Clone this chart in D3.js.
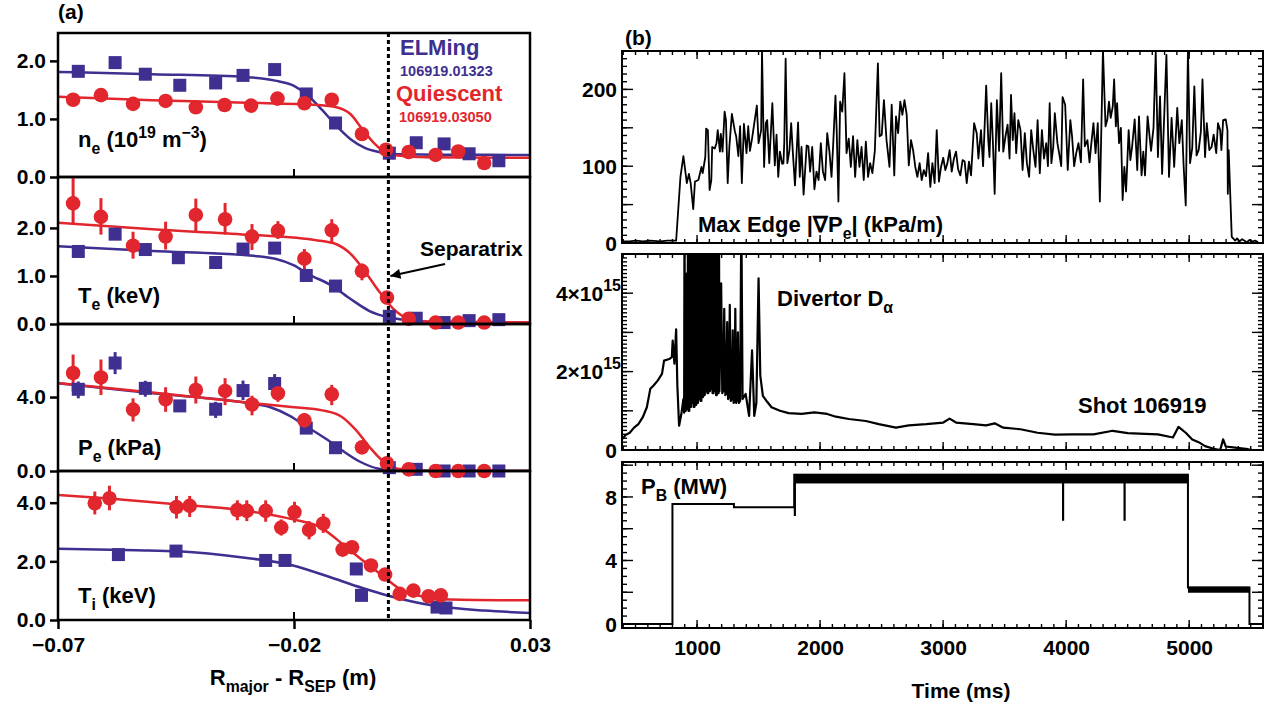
<!DOCTYPE html>
<html>
<head>
<meta charset="utf-8">
<script src="https://cdn.jsdelivr.net/npm/d3@7"></script>
<style>
  body { margin: 0; background: #fff; }
  text { font-family: "Liberation Sans", Arial, Helvetica, sans-serif; font-weight: bold; }
</style>
</head>
<body>
<svg width="1271" height="709"></svg>
<script>
// ---- (a) edge profiles: [R - Rsep (m), value, errLo, errHi] ----
const neElm = [[-0.0657,1.82],[-0.0579,1.97],[-0.0515,1.77],[-0.0442,1.58],[-0.0366,1.62],[-0.0308,1.75],[-0.0241,1.85],[-0.0174,1.43],[-0.0112,0.93],[0.0002,0.41],[0.0059,0.59],[0.0118,0.57],[0.0171,0.40],[0.0234,0.28]];
const neQui = [[-0.0668,1.33],[-0.0609,1.41],[-0.0541,1.26],[-0.0472,1.31],[-0.0408,1.20],[-0.0347,1.24],[-0.0291,1.23],[-0.0235,1.35],[-0.0178,1.27],[-0.0120,1.33],[-0.0056,0.74],[-0.0005,0.47],[0.0043,0.43],[0.0100,0.38],[0.0148,0.44],[0.0203,0.24]];
const neElmFit = [[-0.07,1.81],[-0.05,1.77],[-0.03,1.72],[-0.024,1.66],[-0.02,1.57],[-0.017,1.40],[-0.014,1.15],[-0.011,0.88],[-0.008,0.65],[-0.005,0.50],[-0.002,0.43],[0.002,0.39],[0.01,0.385],[0.03,0.38]];
const neQuiFit = [[-0.07,1.38],[-0.05,1.32],[-0.03,1.28],[-0.015,1.24],[-0.011,1.20],[-0.008,1.08],[-0.0055,0.82],[-0.003,0.58],[-0.001,0.44],[0.002,0.37],[0.008,0.34],[0.03,0.33]];

const teElm = [[-0.0657,1.51],[-0.0579,1.87,1.77,1.97],[-0.0515,1.55],[-0.0445,1.38],[-0.0366,1.28,1.17,1.38],[-0.0308,1.56,1.46,1.66],[-0.0241,1.58,1.48,1.68],[-0.0174,1.01],[-0.0112,0.79],[0.0002,0.16],[0.0059,0.12],[0.0118,0.03],[0.0171,0.07],[0.0234,0.09]];
const teQui = [[-0.0668,2.51,2.10,3.16],[-0.0609,2.23,1.86,2.62],[-0.0541,1.63,1.36,1.92],[-0.0472,1.82,1.55,2.13],[-0.0408,2.27,1.92,2.61],[-0.0346,2.18,1.86,2.52],[-0.0289,1.82,1.54,2.08],[-0.0234,1.94,1.77,2.14],[-0.0178,1.36,1.12,1.56],[-0.0120,1.95,1.70,2.18],[-0.0056,1.10,0.91,1.26],[-0.0003,0.55,0.47,0.64],[0.0043,0.11],[0.0100,0.03],[0.0148,0.03],[0.0203,0.03]];
const teElmFit = [[-0.07,1.62],[-0.05,1.52],[-0.03,1.43],[-0.024,1.36],[-0.02,1.22],[-0.017,1.04],[-0.012,0.80],[-0.008,0.52],[-0.004,0.27],[0,0.14],[0.004,0.08],[0.01,0.04],[0.03,0.03]];
const teQuiFit = [[-0.07,2.11],[-0.05,1.97],[-0.03,1.86],[-0.015,1.74],[-0.011,1.66],[-0.008,1.46],[-0.005,1.10],[-0.002,0.68],[0.001,0.32],[0.004,0.12],[0.008,0.05],[0.03,0.03]];

const peElm = [[-0.0657,4.42,3.93,4.84],[-0.0579,5.84,5.24,6.43],[-0.0515,4.47,4.02,4.88],[-0.0442,3.52],[-0.0366,3.34,2.87,3.74],[-0.0308,4.35,3.84,4.89],[-0.0241,4.73,4.29,5.24],[-0.0174,2.32],[-0.0112,1.26],[0.0002,0.18],[0.0059,0.09],[0.0118,0],[0.0171,0],[0.0234,0]];
const peQui = [[-0.0668,5.30,4.29,6.30],[-0.0609,5.06,4.11,6.03],[-0.0541,3.32,2.68,3.93],[-0.0472,3.87,3.20,4.53],[-0.0408,4.38,3.65,5.11],[-0.0346,4.33,3.56,5.02],[-0.0289,3.60,3.01,4.07],[-0.0234,4.20,3.74,4.66],[-0.0178,2.74,2.32,3.14],[-0.0120,4.15,3.56,4.66],[-0.0056,1.28,1.04,1.55],[-0.0003,0.42],[0.0043,0.09],[0.0100,0],[0.0148,0],[0.0203,0]];
const peElmFit = [[-0.07,4.75],[-0.05,4.2],[-0.03,3.68],[-0.025,3.45],[-0.021,3.0],[-0.017,2.35],[-0.013,1.7],[-0.010,1.15],[-0.006,0.5],[-0.002,0.12],[0.002,0.02],[0.03,0]];
const peQuiFit = [[-0.07,4.75],[-0.05,4.25],[-0.03,3.7],[-0.02,3.45],[-0.014,3.28],[-0.010,2.95],[-0.007,2.25],[-0.004,1.3],[-0.001,0.5],[0.002,0.12],[0.006,0.02],[0.03,0]];

const tiElm = [[-0.0572,2.23],[-0.0450,2.35],[-0.0260,2.03],[-0.0219,2.03],[-0.0068,1.74],[-0.0057,0.84],[0.0103,0.44],[0.0122,0.41]];
const tiQui = [[-0.0622,3.98,3.60,4.38],[-0.0591,4.15,3.74,4.58],[-0.0449,3.85,3.46,4.23],[-0.0421,3.89,3.51,4.23],[-0.0320,3.75,3.40,4.08],[-0.0300,3.72,3.37,4.08],[-0.0260,3.72,3.35,4.08],[-0.0227,3.15,2.88,3.43],[-0.0199,3.68,3.32,4.03],[-0.0168,3.07,2.75,3.37],[-0.0138,3.29,2.97,3.62],[-0.0097,2.40,2.18,2.60],[-0.0077,2.48,2.29,2.69],[-0.0037,1.86],[-0.0007,1.55],[0.0024,0.89],[0.0053,1.00],[0.0085,0.81],[0.0111,0.84]];
const tiElmFit = [[-0.07,2.43],[-0.0534,2.38],[-0.0445,2.34],[-0.0313,2.14],[-0.0202,1.86],[-0.0129,1.49],[-0.0055,1.09],[0.0004,0.81],[0.0092,0.50],[0.0203,0.32],[0.03,0.24]];
const tiQuiFit = [[-0.07,4.26],[-0.0592,4.14],[-0.0445,3.94],[-0.0313,3.75],[-0.0202,3.43],[-0.0143,3.15],[-0.0092,2.52],[-0.0048,1.95],[-0.0011,1.49],[0.0026,1.04],[0.007,0.81],[0.0129,0.70],[0.03,0.67]];

const xTicksA = [-0.07, -0.02, 0.03];

// ---- (b) time traces: [time (ms), value] ----
const gradPe = [[390,2],[450,2],[500,3],[560,2],[620,3],[700,2],[760,3],[830,3],[865,86],[889,113],[917,78],[934,90],[948,78],[969,44],[983,80],[1011,82],[1036,99],[1046,91],[1067,112],[1074,149],[1088,147],[1102,69],[1116,82],[1123,125],[1144,123],[1158,130],[1168,147],[1186,119],[1193,142],[1207,119],[1224,171],[1235,160],[1249,78],[1263,126],[1283,168],[1308,145],[1318,139],[1336,113],[1350,152],[1364,78],[1381,155],[1402,117],[1416,152],[1430,120],[1447,136],[1486,179],[1500,130],[1521,147],[1528,250],[1545,99],[1559,156],[1570,160],[1587,104],[1612,182],[1632,101],[1646,141],[1660,86],[1674,119],[1692,103],[1702,104],[1709,131],[1720,240],[1734,104],[1751,121],[1765,156],[1779,117],[1796,75],[1821,157],[1835,86],[1849,125],[1866,63],[1891,127],[1905,126],[1919,93],[1936,125],[1954,70],[1971,93],[1988,82],[2006,130],[2023,93],[2041,82],[2058,143],[2076,119],[2093,86],[2107,130],[2125,192],[2135,147],[2149,54],[2163,184],[2180,171],[2198,221],[2215,117],[2233,136],[2250,99],[2268,139],[2285,86],[2303,134],[2320,99],[2337,125],[2355,82],[2372,132],[2390,86],[2407,104],[2425,91],[2445,120],[2470,234],[2484,139],[2501,141],[2519,186],[2540,134],[2564,99],[2582,180],[2603,88],[2617,165],[2634,143],[2652,184],[2669,167],[2686,186],[2704,167],[2721,101],[2739,134],[2756,121],[2774,99],[2791,86],[2809,104],[2826,82],[2843,95],[2861,87],[2878,117],[2896,73],[2913,104],[2931,78],[2948,147],[2966,80],[2983,99],[3001,111],[3018,95],[3035,104],[3053,121],[3070,93],[3088,110],[3105,119],[3122,96],[3140,88],[3158,108],[3175,106],[3192,78],[3210,106],[3227,88],[3252,156],[3273,143],[3287,110],[3308,147],[3325,100],[3350,205],[3367,134],[3377,112],[3391,182],[3405,130],[3419,64],[3437,186],[3455,120],[3472,221],[3489,119],[3507,139],[3524,154],[3540,110],[3552,193],[3566,134],[3580,169],[3594,117],[3611,160],[3629,147],[3646,95],[3664,143],[3681,104],[3699,86],[3716,147],[3733,121],[3751,99],[3768,160],[3786,91],[3803,147],[3820,110],[3838,130],[3852,100],[3866,182],[3880,104],[3895,125],[3908,169],[3929,130],[3943,117],[3960,100],[3971,190],[3992,180],[4013,95],[4034,160],[4048,139],[4065,100],[4082,117],[4100,130],[4120,105],[4138,213],[4152,126],[4173,134],[4190,105],[4205,130],[4222,156],[4239,117],[4257,156],[4274,54],[4292,195],[4299,252],[4320,152],[4334,160],[4348,184],[4362,163],[4379,178],[4390,213],[4404,152],[4414,182],[4430,130],[4445,150],[4459,56],[4473,99],[4487,67],[4508,147],[4522,108],[4536,125],[4557,161],[4578,95],[4592,165],[4613,88],[4627,119],[4641,88],[4662,165],[4690,120],[4710,150],[4728,248],[4746,112],[4763,191],[4780,90],[4815,245],[4836,86],[4857,163],[4878,99],[4903,176],[4920,130],[4940,160],[4955,100],[4972,49],[4990,252],[5007,104],[5025,124],[5042,204],[5060,114],[5077,121],[5095,145],[5108,213],[5129,112],[5143,156],[5164,121],[5182,125],[5199,141],[5220,117],[5234,156],[5252,147],[5262,121],[5276,160],[5297,161],[5311,147],[5314,64],[5321,121],[5346,8],[5374,3],[5390,6],[5410,2],[5430,5],[5450,3],[5470,1],[5490,4],[5513,2],[5540,3],[5560,1]];

// divertor D-alpha in units of 1e15
const dAlpha = [[390,0.27],[418,0.38],[453,0.44],[488,0.57],[523,0.66],[558,0.83],[592,1.09],[620,1.56],[645,1.64],[680,1.77],[715,1.94],[732,2.28],[774,2.32],[795,2.37],[802,2.79],[816,2.20],[830,3.08],[840,1.64],[854,0.62],[872,0.91],[889,1.30],
  [895,0.95],[898,6],[902,1.0],[909,1.0],[912,4.5],[916,1.05],[923,1.05],[926,6],[930,1.0],[937,1.0],[940,6],[944,1.1],[951,1.1],[954,6],[958,1.2],[965,1.2],[968,6],[972,1.1],[979,1.1],[982,6],[986,1.15],[993,1.15],[996,6],[1000,1.2],[1007,1.2],[1010,6],[1014,1.3],[1021,1.3],[1024,6],[1028,1.25],[1035,1.25],[1038,6],[1042,1.35],[1049,1.35],[1052,6],[1056,1.4],[1063,1.4],[1066,6],[1070,1.5],[1077,1.5],[1080,6],[1084,1.45],[1091,1.45],[1094,6],[1098,1.5],[1105,1.5],[1108,6],[1112,1.55],[1119,1.55],[1122,6],[1126,1.45],[1133,1.45],[1136,6],[1140,1.5],[1147,1.5],[1150,6],[1154,1.4],[1161,1.4],[1164,6],[1168,1.45],[1175,1.45],[1178,6],[1182,1.5],
  [1196,4.25],[1205,1.45],[1212,1.5],[1221,3.6],[1230,1.4],[1238,1.45],[1245,3.26],[1252,1.3],[1259,1.35],[1266,3.7],[1274,1.25],[1282,1.3],[1290,3.05],[1297,1.2],[1304,1.25],[1311,3.6],[1318,1.2],[1325,1.3],[1332,3.0],[1340,1.2],[1350,1.25],[1360,6],[1370,1.3],[1395,1.43],[1423,0.87],[1447,2.54],[1465,0.87],[1482,1.2],[1500,4.38],[1514,1.9],[1535,1.38],[1570,1.23],[1605,1.09],[1674,1.0],[1744,0.94],[1849,0.92],[1954,0.96],[2058,0.92],[2128,0.85],[2233,0.79],[2372,0.74],[2477,0.66],[2617,0.57],[2721,0.63],[2861,0.66],[3001,0.70],[3053,0.80],[3105,0.70],[3245,0.66],[3350,0.63],[3419,0.68],[3489,0.57],[3629,0.53],[3768,0.44],[3908,0.39],[4048,0.40],[4222,0.40],[4379,0.49],[4501,0.43],[4641,0.41],[4746,0.40],[4868,0.32],[4913,0.59],[4972,0.44],[5025,0.27],[5077,0.20],[5129,0.10],[5199,0.03],[5252,0],[5276,0.27],[5297,0.09],[5374,0.06],[5478,0.02],[5513,0]];

// neutral beam power (MW), step levels
const pbStep = [[390,0],[800,7.55],[1300,7.35],[1790,9.4],[4990,2.3],[5490,0],[5600,0]];
const pbBand = [[1790,8.85,9.45],[4990,1.97,2.35]];   // [start, lo, hi] of modulated bands
const pbBandEnd = [4990, 5490];
const pbDips = [[1795,6.8],[3975,6.5],[4475,6.5]];

const xTicksB = [1000, 2000, 3000, 4000, 5000];

// ---- colours ----
const blue = "#3f2f90", red = "#e2262d";

const svg = d3.select("svg");
const defs = svg.append("defs");

function richText(sel, x, y, parts, size, anchor) {
  const t = sel.append("text").attr("x", x).attr("y", y)
    .attr("font-size", size).attr("text-anchor", anchor || "start");
  let shift = 0;
  parts.forEach(([s, k]) => {
    const target = k === "sub" ? size * 0.32 : k === "sup" ? -size * 0.42 : 0;
    t.append("tspan").attr("dy", target - shift)
      .attr("font-size", k ? size * 0.72 : size).text(s);
    shift = target;
  });
  return t;
}

// ================= panel (a) =================
const xA = d3.scaleLinear([-0.07, 0.03], [58, 530]);
const panelsA = [
  {top: 33, bottom: 177, domain: [0, 2.48], ticks: [0, 1, 2], elm: neElm, qui: neQui, elmFit: neElmFit, quiFit: neQuiFit,
   label: [["n"],["e","sub"],[" (10"],["19","sup"],[" m"],["\u22123","sup"],[")"]], ly: 147},
  {top: 177, bottom: 324, domain: [0, 3.06], ticks: [0, 1, 2], elm: teElm, qui: teQui, elmFit: teElmFit, quiFit: teQuiFit,
   label: [["T"],["e","sub"],[" (keV)"]], ly: 303},
  {top: 324, bottom: 471, domain: [0, 7.95], ticks: [0, 4], elm: peElm, qui: peQui, elmFit: peElmFit, quiFit: peQuiFit,
   label: [["P"],["e","sub"],[" (kPa)"]], ly: 455},
  {top: 471, bottom: 620, domain: [0, 5.08], ticks: [0, 2, 4], elm: tiElm, qui: tiQui, elmFit: tiElmFit, quiFit: tiQuiFit,
   label: [["T"],["i","sub"],[" (keV)"]], ly: 603}
];

panelsA.forEach((p, i) => {
  const y = d3.scaleLinear(p.domain, [p.bottom, p.top]);
  p.y = y;
  const g = svg.append("g");
  const clipId = "clipA" + i;
  defs.append("clipPath").attr("id", clipId).append("rect")
    .attr("x", 58).attr("y", p.top).attr("width", 472).attr("height", p.bottom - p.top);

  const plot = g.append("g").attr("clip-path", `url(#${clipId})`);
  const line = d3.line().x(d => xA(d[0])).y(d => y(d[1])).curve(d3.curveMonotoneX);
  plot.append("path").datum(p.elmFit).attr("d", line).attr("fill", "none").attr("stroke", blue).attr("stroke-width", 2.5);
  plot.append("path").datum(p.quiFit).attr("d", line).attr("fill", "none").attr("stroke", red).attr("stroke-width", 2.5);

  [[p.elm, blue], [p.qui, red]].forEach(([pts, col]) => {
    plot.selectAll(null).data(pts.filter(d => d.length > 2)).join("line")
      .attr("x1", d => xA(d[0])).attr("x2", d => xA(d[0]))
      .attr("y1", d => y(d[2])).attr("y2", d => y(d[3]))
      .attr("stroke", col).attr("stroke-width", 3);
  });
  g.selectAll(null).data(p.elm).join("rect")
    .attr("x", d => xA(d[0]) - 6.5).attr("y", d => y(d[1]) - 6.5)
    .attr("width", 13).attr("height", 13).attr("fill", blue);
  g.selectAll(null).data(p.qui).join("circle")
    .attr("cx", d => xA(d[0])).attr("cy", d => y(d[1])).attr("r", 7.3).attr("fill", red);

  // frame
  g.append("rect").attr("x", 58).attr("y", p.top).attr("width", 472).attr("height", p.bottom - p.top)
    .attr("fill", "none").attr("stroke", "#000").attr("stroke-width", 2.5);
  // inner tick at -0.02
  g.append("line").attr("x1", xA(-0.02)).attr("x2", xA(-0.02)).attr("y1", p.bottom).attr("y2", p.bottom - 8)
    .attr("stroke", "#000").attr("stroke-width", 2);

  const ax = g.append("g").attr("transform", "translate(58,0)")
    .call(d3.axisLeft(y).tickValues(p.ticks).tickFormat(d3.format(".1f")).tickSize(8).tickPadding(4));
  ax.select(".domain").remove();
  ax.selectAll("line").attr("stroke-width", 2.5);
  ax.attr("font-size", 21).attr("font-family", null);

  richText(g, 78, p.ly, p.label, 22);
});

const axA = svg.append("g").attr("transform", "translate(0,620)")
  .call(d3.axisBottom(xA).tickValues(xTicksA).tickFormat(d3.format(".2f")).tickSize(9).tickPadding(8));
axA.select(".domain").remove();
axA.selectAll("line").attr("stroke-width", 2.5);
axA.attr("font-size", 21).attr("font-family", null);

richText(svg, 293, 685, [["R"],["major","sub"],[" - R"],["SEP","sub"],[" (m)"]], 22, "middle");

// separatrix
svg.append("line").attr("x1", xA(0)).attr("x2", xA(0)).attr("y1", 33).attr("y2", 620)
  .attr("stroke", "#000").attr("stroke-width", 3).attr("stroke-dasharray", "4,3");

defs.append("marker").attr("id", "arrow").attr("viewBox", "0 0 10 10").attr("refX", 10).attr("refY", 5)
  .attr("markerWidth", 7).attr("markerHeight", 5).attr("orient", "auto").attr("markerUnits", "strokeWidth")
  .append("path").attr("d", "M0,0 L10,5 L0,10 z").attr("fill", "#000");
const yTe = panelsA[1].y;
svg.append("line").attr("x1", xA(0.012)).attr("y1", yTe(1.25)).attr("x2", xA(0) + 2).attr("y2", yTe(1.0))
  .attr("stroke", "#000").attr("stroke-width", 2).attr("marker-end", "url(#arrow)");
svg.append("text").attr("x", 420).attr("y", 256).attr("font-size", 21).text("Separatrix");

svg.append("text").attr("x", 400).attr("y", 55).attr("font-size", 22).attr("fill", blue).text("ELMing");
svg.append("text").attr("x", 400).attr("y", 76).attr("font-size", 14.5).attr("fill", blue).text("106919.01323");
svg.append("text").attr("x", 396).attr("y", 101).attr("font-size", 22).attr("fill", red).text("Quiescent");
svg.append("text").attr("x", 399).attr("y", 122).attr("font-size", 14.5).attr("fill", red).text("106919.03050");
svg.append("text").attr("x", 58).attr("y", 19).attr("font-size", 21).text("(a)");

// ================= panel (b) =================
const xB = d3.scaleLinear([390, 5600], [622, 1263]);
const panelsB = [
  {top: 51, bottom: 243, domain: [0, 250], minor: 10, major: 50, max: 250, labels: [0, 100, 200], fmt: d => d},
  {top: 254, bottom: 450, domain: [0, 5], minor: 0.1, major: 1, max: 5, labels: [0, 2, 4], fmt: null},
  {top: 462, bottom: 628, domain: [-0.25, 10.2], minor: 0.5, major: 2, max: 10, labels: [0, 4, 8], fmt: d => d}
];

panelsB.forEach((p, i) => {
  const y = d3.scaleLinear(p.domain, [p.bottom, p.top]);
  p.y = y;
  const g = svg.append("g");
  const clipId = "clipB" + i;
  defs.append("clipPath").attr("id", clipId).append("rect")
    .attr("x", 622).attr("y", p.top).attr("width", 641).attr("height", p.bottom - p.top);
  p.plot = g.append("g").attr("clip-path", `url(#${clipId})`);

  const minorY = d3.range(0, p.max + 1e-9, p.minor).map(v => +v.toFixed(3));
  const majorY = d3.range(0, p.max + 1e-9, p.major);
  const minorX = d3.range(400, 5600, 100);
  const tickG = g.append("g").attr("stroke", "#000").attr("stroke-width", 1.4);
  [[minorY, 5], [majorY, 11]].forEach(([vals, len]) => {
    tickG.selectAll(null).data(vals).join("line")
      .attr("x1", 622).attr("x2", 622 + len).attr("y1", d => y(d)).attr("y2", d => y(d));
    tickG.selectAll(null).data(vals).join("line")
      .attr("x1", 1263).attr("x2", 1263 - len).attr("y1", d => y(d)).attr("y2", d => y(d));
  });
  [[minorX, 4], [xTicksB, 8]].forEach(([vals, len]) => {
    tickG.selectAll(null).data(vals).join("line")
      .attr("x1", d => xB(d)).attr("x2", d => xB(d)).attr("y1", p.top).attr("y2", p.top + len);
    tickG.selectAll(null).data(vals).join("line")
      .attr("x1", d => xB(d)).attr("x2", d => xB(d)).attr("y1", p.bottom).attr("y2", p.bottom - len);
  });

  g.append("rect").attr("x", 622).attr("y", p.top).attr("width", 641).attr("height", p.bottom - p.top)
    .attr("fill", "none").attr("stroke", "#000").attr("stroke-width", 2);

  p.labels.forEach(v => {
    const sci = !p.fmt && v !== 0;
    const t = g.append("text").attr("x", sci ? 621 : 617).attr("y", y(v)).attr("dy", "0.36em")
      .attr("font-size", 21).attr("text-anchor", "end");
    if (!sci) {
      t.text(v);
    } else {
      t.append("tspan").text(v + "\u00d710");
      t.append("tspan").attr("dy", -10).attr("font-size", 16).text("15");
    }
  });
});

// max edge grad Pe
panelsB[0].plot.append("path").datum(gradPe)
  .attr("d", d3.line().x(d => xB(d[0])).y(d => panelsB[0].y(d[1])))
  .attr("fill", "none").attr("stroke", "#000").attr("stroke-width", 1.8).attr("stroke-linejoin", "round");

// divertor D-alpha
panelsB[1].plot.append("path").datum(dAlpha)
  .attr("d", d3.line().x(d => xB(d[0])).y(d => panelsB[1].y(d[1])))
  .attr("fill", "none").attr("stroke", "#000").attr("stroke-width", 2.2).attr("stroke-linejoin", "round");

// beam power
const yPb = panelsB[2].y;
panelsB[2].plot.append("path").datum(pbStep)
  .attr("d", d3.line().x(d => xB(d[0])).y(d => yPb(d[1])).curve(d3.curveStepAfter))
  .attr("fill", "none").attr("stroke", "#000").attr("stroke-width", 2);
panelsB[2].plot.selectAll(null).data(pbBand).join("rect")
  .attr("x", (d, i) => xB(d[0])).attr("width", (d, i) => xB(pbBandEnd[i]) - xB(d[0]))
  .attr("y", d => yPb(d[2])).attr("height", d => yPb(d[1]) - yPb(d[2])).attr("fill", "#000");
panelsB[2].plot.selectAll(null).data(pbDips).join("line")
  .attr("x1", d => xB(d[0])).attr("x2", d => xB(d[0]))
  .attr("y1", yPb(8.9)).attr("y2", d => yPb(d[1])).attr("stroke", "#000").attr("stroke-width", 2.2);

const axB = svg.append("g").attr("transform", "translate(0,628)")
  .call(d3.axisBottom(xB).tickValues(xTicksB).tickFormat(d3.format("d")).tickSize(0).tickPadding(12));
axB.select(".domain").remove();
axB.attr("font-size", 21).attr("font-family", null);

svg.append("text").attr("x", 961).attr("y", 698).attr("font-size", 21).attr("text-anchor", "middle").text("Time (ms)");
svg.append("text").attr("x", 625).attr("y", 45).attr("font-size", 21).text("(b)");
richText(svg, 698, 232, [["Max Edge |\u2207P"],["e","sub"],["| (kPa/m)"]], 22);
richText(svg, 777, 306, [["Divertor D"],["\u03b1","sub"]], 22);
svg.append("text").attr("x", 1078).attr("y", 413).attr("font-size", 22).text("Shot 106919");
richText(svg, 641, 494, [["P"],["B","sub"],[" (MW)"]], 22);
</script>
</body>
</html>
